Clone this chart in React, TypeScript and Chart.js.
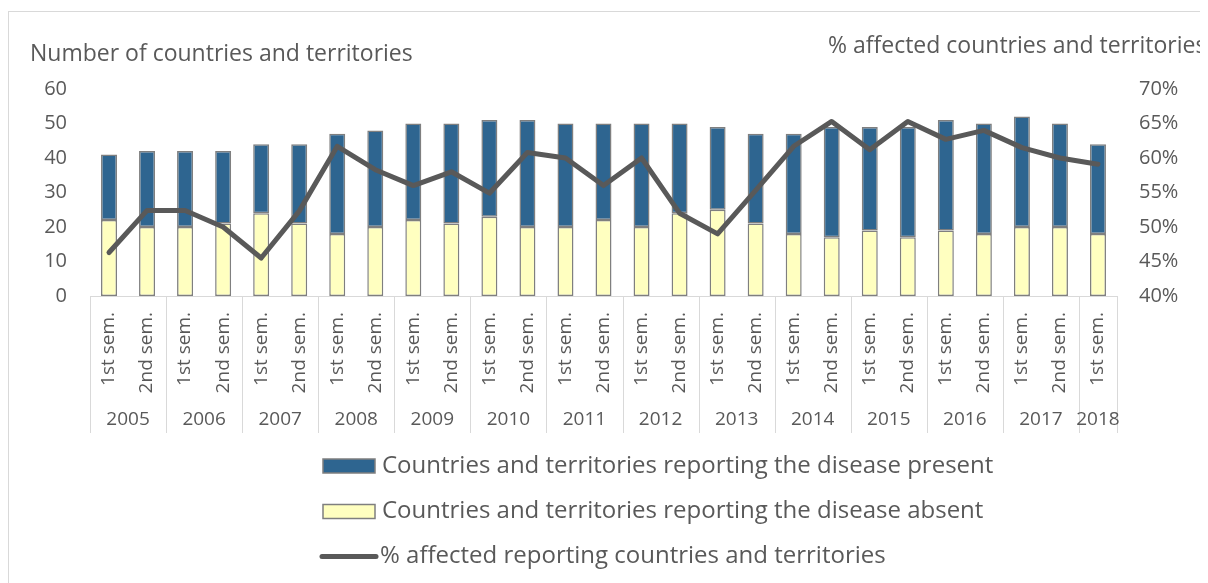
import React, { useEffect, useRef } from 'react';
import { Chart, registerables } from 'chart.js';

Chart.register(...registerables);

const semesterLabels = [
  '1st sem.', '2nd sem.', '1st sem.', '2nd sem.', '1st sem.', '2nd sem.', '1st sem.', '2nd sem.',
  '1st sem.', '2nd sem.', '1st sem.', '2nd sem.', '1st sem.', '2nd sem.', '1st sem.', '2nd sem.',
  '1st sem.', '2nd sem.', '1st sem.', '2nd sem.', '1st sem.', '2nd sem.', '1st sem.', '2nd sem.',
  '1st sem.', '2nd sem.', '1st sem.',
];
const yearLabels = ['2005', '2006', '2007', '2008', '2009', '2010', '2011', '2012', '2013', '2014', '2015', '2016', '2017', '2018'];
const yearSpans = [2, 2, 2, 2, 2, 2, 2, 2, 2, 2, 2, 2, 2, 1];

const presentValues = [19, 22, 22, 21, 20, 23, 29, 28, 28, 29, 28, 31, 30, 28, 30, 26, 24, 26, 29, 32, 30, 32, 32, 32, 32, 30, 26];
const absentValues = [22, 20, 20, 21, 24, 21, 18, 20, 22, 21, 23, 20, 20, 22, 20, 24, 25, 21, 18, 17, 19, 17, 19, 18, 20, 20, 18];
const affectedPct = [46.3, 52.4, 52.4, 50.0, 45.5, 52.3, 61.7, 58.3, 56.0, 58.0, 54.9, 60.8, 60.0, 56.0, 60.0, 52.0, 49.0, 55.3, 61.7, 65.3, 61.2, 65.3, 62.7, 64.0, 61.5, 60.0, 59.1];

const leftTicks = [0, 10, 20, 30, 40, 50, 60];
const rightTicks = [40, 45, 50, 55, 60, 65, 70];

const leftTitle = 'Number of countries and territories';
const rightTitle = '% affected countries and territories';
const presentLabel = 'Countries and territories reporting the disease present';
const absentLabel = 'Countries and territories reporting the disease absent';
const lineLabel = '% affected reporting countries and territories';

const FONT = "'Open Sans', sans-serif";
const TEXT = '#595959';
const BLUE = '#2E6590';
const YELLOW = '#FFFFC0';
const EDGE = '#7F7F7F';
const LINE = '#595959';
const GRID = '#D9D9D9';
const FS = 19;
const YTICK_FS = 20;
const TITLE_FS = 23;
const LEGEND_FS = 24;

const decorPlugin = {
  id: 'decor',
  beforeDraw(chart: any) {
    const { ctx } = chart;
    ctx.save();
    ctx.fillStyle = '#ffffff';
    ctx.fillRect(0, 0, chart.width, chart.height);
    ctx.strokeStyle = GRID;
    ctx.lineWidth = 1;
    ctx.strokeRect(0.5, 3.5, chart.width + 20, chart.height + 20);
    ctx.restore();
  },
  afterDraw(chart: any) {
    const { ctx, chartArea, scales } = chart;
    const xs = scales.x;
    ctx.save();
    // axis titles
    ctx.fillStyle = TEXT;
    ctx.font = `${TITLE_FS}px ${FONT}`;
    ctx.textBaseline = 'alphabetic';
    ctx.textAlign = 'left';
    ctx.fillText(leftTitle, 22, 53);
    ctx.fillText(rightTitle, 820, 45);

    // year separators and labels
    ctx.font = `${FS}px ${FONT}`;
    const bounds: number[] = [chartArea.left];
    let idx = 0;
    for (let k = 0; k < yearSpans.length; k++) {
      idx += yearSpans[k];
      if (idx < semesterLabels.length) {
        bounds.push((xs.getPixelForValue(idx - 1) + xs.getPixelForValue(idx)) / 2);
      } else {
        bounds.push(chartArea.right);
      }
    }
    ctx.strokeStyle = GRID;
    ctx.lineWidth = 1;
    const sepTop = chartArea.bottom;
    const sepBottom = chartArea.bottom + 137;
    bounds.forEach((b) => {
      const bx = Math.round(b) + 0.5;
      ctx.beginPath();
      ctx.moveTo(bx, sepTop);
      ctx.lineTo(bx, sepBottom);
      ctx.stroke();
    });
    ctx.textAlign = 'center';
    ctx.textBaseline = 'middle';
    yearLabels.forEach((y, k) => {
      ctx.fillText(y, (bounds[k] + bounds[k + 1]) / 2, chartArea.bottom + 124);
    });

    // legend
    ctx.font = `${LEGEND_FS}px ${FONT}`;
    const sx = 315;
    const sw = 52;
    const sh = 14;
    const rows = [458, 503.5, 548.5];
    const tx = 374;
    ctx.textAlign = 'left';
    ctx.textBaseline = 'middle';
    // present
    ctx.fillStyle = BLUE;
    ctx.fillRect(sx, rows[0] - sh / 2, sw, sh);
    ctx.strokeStyle = EDGE;
    ctx.lineWidth = 1.5;
    ctx.strokeRect(sx, rows[0] - sh / 2, sw, sh);
    ctx.fillStyle = TEXT;
    ctx.fillText(presentLabel, tx, rows[0]);
    // absent
    ctx.fillStyle = YELLOW;
    ctx.fillRect(sx, rows[1] - sh / 2, sw, sh);
    ctx.strokeRect(sx, rows[1] - sh / 2, sw, sh);
    ctx.fillStyle = TEXT;
    ctx.fillText(absentLabel, tx, rows[1]);
    // line
    ctx.strokeStyle = LINE;
    ctx.lineWidth = 5;
    ctx.lineCap = 'round';
    ctx.beginPath();
    ctx.moveTo(sx - 1, rows[2]);
    ctx.lineTo(sx + 53, rows[2]);
    ctx.stroke();
    ctx.fillStyle = TEXT;
    ctx.fillText(lineLabel, tx - 2, rows[2]);
    ctx.restore();
  },
};

export default function App() {
  const canvasRef = useRef<HTMLCanvasElement | null>(null);

  useEffect(() => {
    document.documentElement.style.overflow = 'hidden';
    document.body.style.overflow = 'hidden';
    const canvas = canvasRef.current;
    if (!canvas) return;
    Chart.defaults.font.family = FONT;
    Chart.defaults.font.size = FS;
    Chart.defaults.color = TEXT;

    const chart = new Chart(canvas, {
      type: 'bar',
      data: {
        labels: semesterLabels,
        datasets: [
          {
            type: 'line',
            label: lineLabel,
            data: affectedPct,
            yAxisID: 'y1',
            borderColor: LINE,
            backgroundColor: LINE,
            borderWidth: 5,
            pointRadius: 0,
            tension: 0,
            borderCapStyle: 'round',
            borderJoinStyle: 'round',
            order: 0,
          } as any,
          {
            type: 'bar',
            label: absentLabel,
            data: absentValues,
            yAxisID: 'y',
            stack: 's',
            backgroundColor: YELLOW,
            borderColor: EDGE,
            borderWidth: 1.5,
            borderSkipped: false,
            categoryPercentage: 1,
            barPercentage: 0.42,
            order: 1,
          },
          {
            type: 'bar',
            label: presentLabel,
            data: presentValues,
            yAxisID: 'y',
            stack: 's',
            backgroundColor: BLUE,
            borderColor: EDGE,
            borderWidth: 1.5,
            borderSkipped: false,
            categoryPercentage: 1,
            barPercentage: 0.42,
            order: 2,
          },
        ],
      },
      options: {
        responsive: false,
        animation: false,
        layout: { padding: { top: 81, bottom: 137, left: 0, right: 0 } },
        plugins: {
          legend: { display: false },
          tooltip: { enabled: false },
          title: { display: false },
        },
        scales: {
          x: {
            stacked: true,
            offset: true,
            grid: { display: false, drawTicks: false },
            border: { display: true, color: GRID, width: 1 },
            ticks: {
              autoSkip: false,
              maxRotation: 90,
              minRotation: 90,
              padding: 16,
              color: TEXT,
              font: { size: FS, family: FONT },
            },
            afterFit: (s: any) => {
              s.height = 150;
            },
          },
          y: {
            position: 'left',
            stacked: true,
            min: leftTicks[0],
            max: leftTicks[leftTicks.length - 1],
            grid: { display: false, drawTicks: false },
            border: { display: false },
            ticks: {
              stepSize: 10,
              padding: 23,
              color: TEXT,
              font: { size: YTICK_FS, family: FONT },
            },
            afterFit: (s: any) => {
              s.width = 82;
            },
          },
          y1: {
            position: 'right',
            min: rightTicks[0],
            max: rightTicks[rightTicks.length - 1],
            grid: { display: false, drawTicks: false },
            border: { display: false },
            ticks: {
              stepSize: 5,
              padding: 22,
              color: TEXT,
              font: { size: YTICK_FS, family: FONT },
              callback: (v: any) => `${v}%`,
            },
            afterFit: (s: any) => {
              s.width = 91;
            },
          },
        },
      },
      plugins: [decorPlugin],
    } as any);

    return () => {
      chart.destroy();
    };
  }, []);

  return (
    <div style={{ width: 1200, height: 575 }}>
      <canvas ref={canvasRef} width={1200} height={575} style={{ display: 'block' }} />
    </div>
  );
}
